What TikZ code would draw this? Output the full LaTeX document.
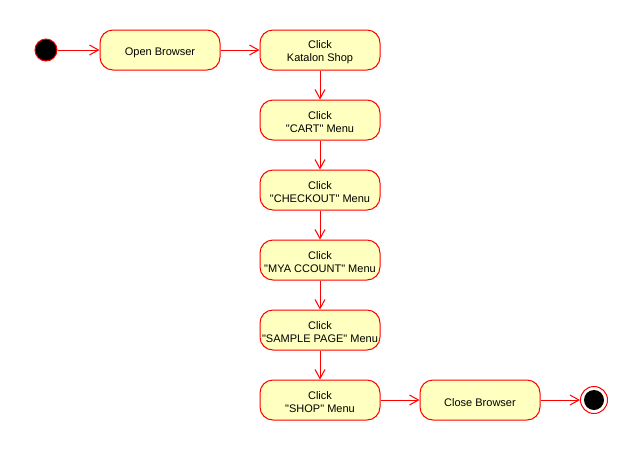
\documentclass[tikz,border=0pt]{standalone}
\usepackage{fontspec}
\setmainfont{Liberation Sans}
\usetikzlibrary{arrows.meta}
\definecolor{actfill}{RGB}{255,255,192}
\definecolor{actline}{RGB}{255,0,0}
\newcommand{\q}[1]{\textquotedbl#1\textquotedbl}
\newcommand{\clk}{\rule{0pt}{13pt}Click}
\tikzset{
  action/.style={draw=actline,line width=1pt,fill=actfill,rounded corners=13pt,minimum width=120pt,
    minimum height=40pt,align=center,inner sep=0pt,font=\fontsize{11}{13}\selectfont},
  flow/.style={draw=actline,line width=1pt,-{Straight Barb[length=9pt,width=10pt]}},
  startnode/.style={circle,draw=actline,line width=1pt,fill=black,minimum size=22pt,inner sep=0pt},
}
\begin{document}
\begin{tikzpicture}[x=1pt,y=-1pt]
  % page frame
  \useasboundingbox (0,0) rectangle (641,451);
  % helper grid: comment for final drawing
  % \draw[help lines,step=10] (0,0) grid (641,451);

  % start and end
  \node[startnode] (start) at (46,50) {};
  \node[circle,draw=actline,line width=1pt,fill=white,minimum size=27pt,inner sep=0pt] (stop) at (594,400) {};
  \node[circle,fill=black,minimum size=20pt,inner sep=0pt] at (stop) {};

  % actions
  \node[action] (open)     at (160,50)  {\rule{0pt}{13pt}Open Browser};
  \node[action] (katalon)  at (320,50)  {\clk\\Katalon Shop};
  \node[action] (cart)     at (320,120) {\clk\\\q{CART} Menu};
  \node[action] (checkout) at (320,190) {\clk\\\q{CHECKOUT} Menu};
  \node[action] (account)  at (320,260) {\clk\\\q{MYA CCOUNT} Menu};
  \node[action] (sample)   at (320,330) {\clk\\\q{SAMPLE PAGE} Menu};
  \node[action] (shop)     at (320,400) {\clk\\\q{SHOP} Menu};
  \node[action] (close)    at (480,400) {\rule{0pt}{13pt}Close Browser};

  % flows
  \draw[flow] (start) -- (open);
  \draw[flow] (open) -- (katalon);
  \draw[flow] (katalon) -- (cart);
  \draw[flow] (cart) -- (checkout);
  \draw[flow] (checkout) -- (account);
  \draw[flow] (account) -- (sample);
  \draw[flow] (sample) -- (shop);
  \draw[flow] (shop) -- (close);
  \draw[flow] (close) -- (stop);

\end{tikzpicture}
\end{document}
